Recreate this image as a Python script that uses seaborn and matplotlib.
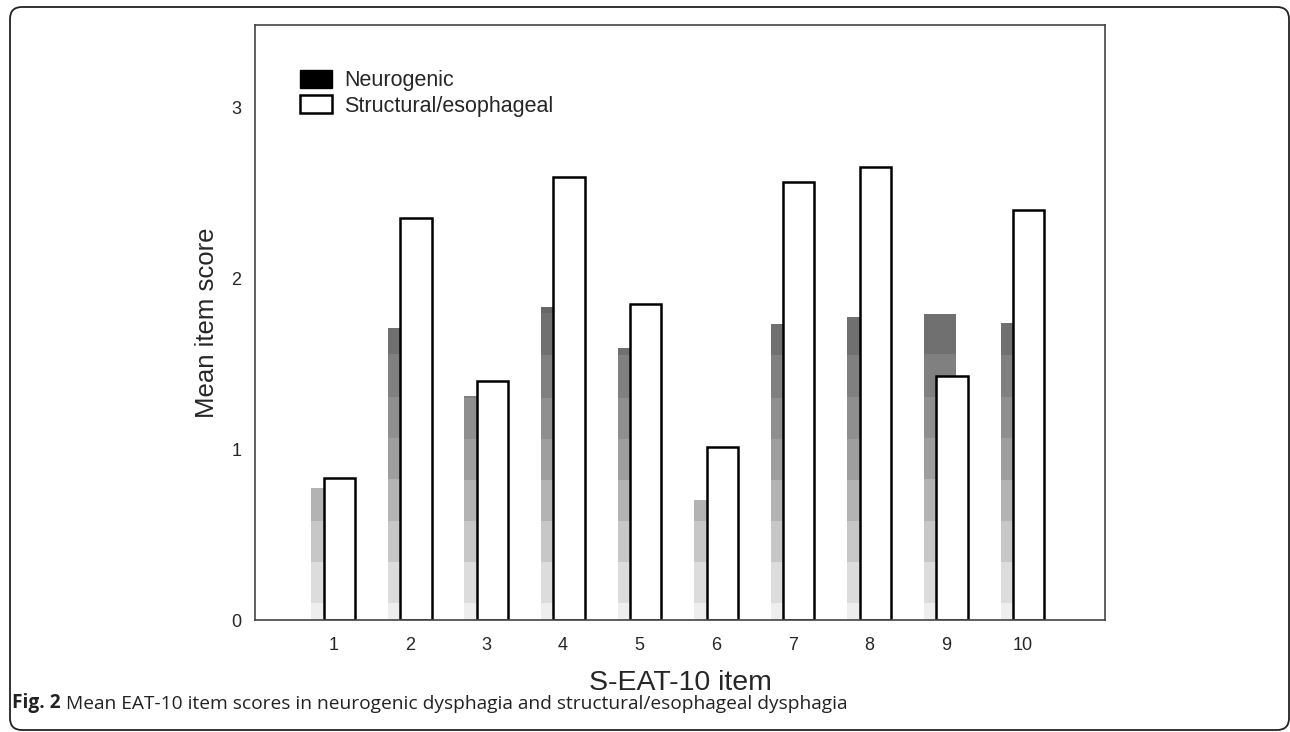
import numpy as np
import pandas as pd
import matplotlib.pyplot as plt
import seaborn as sns
from matplotlib.patches import Patch, FancyBboxPatch
from matplotlib.transforms import IdentityTransform

# --- data ---
items = [1, 2, 3, 4, 5, 6, 7, 8, 9, 10]
neurogenic = [0.77, 1.71, 1.31, 1.83, 1.59, 0.70, 1.73, 1.77, 1.79, 1.74]
structural = [0.83, 2.35, 1.40, 2.59, 1.85, 1.01, 2.56, 2.65, 1.43, 2.40]
groups = ['Neurogenic', 'Structural/esophageal']
caption = 'Mean EAT-10 item scores in neurogenic dysphagia and structural/esophageal dysphagia'

# grey bands used to shade the neurogenic bars (light at bottom, dark at top)
band_edges = [0, 0.10, 0.34, 0.58, 0.82, 1.06, 1.30, 1.55, 1.795, 2.04]
band_greys = [0.93, 0.86, 0.78, 0.70, 0.62, 0.56, 0.50, 0.44, 0.40]

df = pd.DataFrame({
    'item': items * 2,
    'group': [groups[0]] * len(items) + [groups[1]] * len(items),
    'score': neurogenic + structural,
})
shift = {groups[0]: -0.08, groups[1]: 0.08}
df['pos'] = df['item'] + df['group'].map(shift)

sns.set_style('white')
plt.rcParams['font.family'] = ['Liberation Sans', 'DejaVu Sans']

fig = plt.figure(figsize=(12.9, 7.32), dpi=100)
ax = fig.add_axes([0.1977, 0.153, 0.659, 0.8128])

# neurogenic bars (behind)
neu = df[df['group'] == groups[0]]
sns.barplot(data=neu, x='pos', y='score', native_scale=True, width=0.41,
            color='black', errorbar=None, ax=ax, zorder=1)
neu_patches = list(ax.patches)

# shade each neurogenic bar with the banded grey fill
fine = np.arange(0, band_edges[-1], 0.005)
idx = np.clip(np.searchsorted(band_edges, fine, side='right') - 1, 0, len(band_greys) - 1)
shade = np.array(band_greys)[idx].reshape(-1, 1)
for p in neu_patches:
    p.set_facecolor('none')
    p.set_linewidth(0)
    x0 = p.get_x()
    x1 = x0 + p.get_width()
    im = ax.imshow(shade, cmap='gray', vmin=0, vmax=1, origin='lower', aspect='auto',
                   interpolation='nearest', extent=(x0, x1, 0, band_edges[-1]), zorder=1)
    im.set_clip_path(p)

# structural/esophageal bars (front)
stru = df[df['group'] == groups[1]]
sns.barplot(data=stru, x='pos', y='score', native_scale=True, width=0.41,
            color='white', errorbar=None, ax=ax, zorder=2)
for p in ax.patches[len(neu_patches):]:
    p.set_facecolor('white')
    p.set_edgecolor('black')
    p.set_linewidth(1.8)

ax.set_xlim(-0.02, 11.08)
ax.set_ylim(0, 3.48)
ax.set_xticks(items)
ax.set_xticklabels([str(i) for i in items], fontsize=13)
ax.set_yticks([0, 1, 2, 3])
ax.set_yticklabels(['0', '1', '2', '3'], fontsize=13)
ax.tick_params(axis='x', direction='in', length=3, width=1, pad=12, color='#333333')
ax.tick_params(axis='y', length=0, pad=10)
ax.set_xlabel('S-EAT-10 item', fontsize=20.5, labelpad=12)
ax.set_ylabel('Mean item score', fontsize=18.5, labelpad=9)
for s in ax.spines.values():
    s.set_visible(True)
    s.set_color('#444444')
    s.set_linewidth(1.2)

handles = [Patch(facecolor='black', edgecolor='black'),
           Patch(facecolor='white', edgecolor='black', linewidth=1.8)]
ax.legend(handles, groups, loc='upper left', bbox_to_anchor=(0.053, 0.925),
          frameon=False, fontsize=15.5, handlelength=1.5, handleheight=0.9,
          handletextpad=0.55, labelspacing=0.2, borderpad=0, borderaxespad=0)

# caption box and caption text
frame = FancyBboxPatch((10, 2), 1279, 723, boxstyle='round,pad=0,rounding_size=12',
                       transform=IdentityTransform(), facecolor='none',
                       edgecolor='#222222', linewidth=1.3)
fig.add_artist(frame)
cap = fig.text(12 / 1290, 1 - 703 / 732, 'Fig. 2', fontsize=13.8, fontweight='bold',
               family=['Open Sans', 'DejaVu Sans'], va='center', color='#222222')
ax.annotate(' ' + caption, xy=(1, 0), xycoords=cap, va='bottom', ha='left', fontsize=13.8,
            family=['Open Sans', 'DejaVu Sans'], color='#222222', annotation_clip=False)

fig.savefig('out.png', dpi=100)
